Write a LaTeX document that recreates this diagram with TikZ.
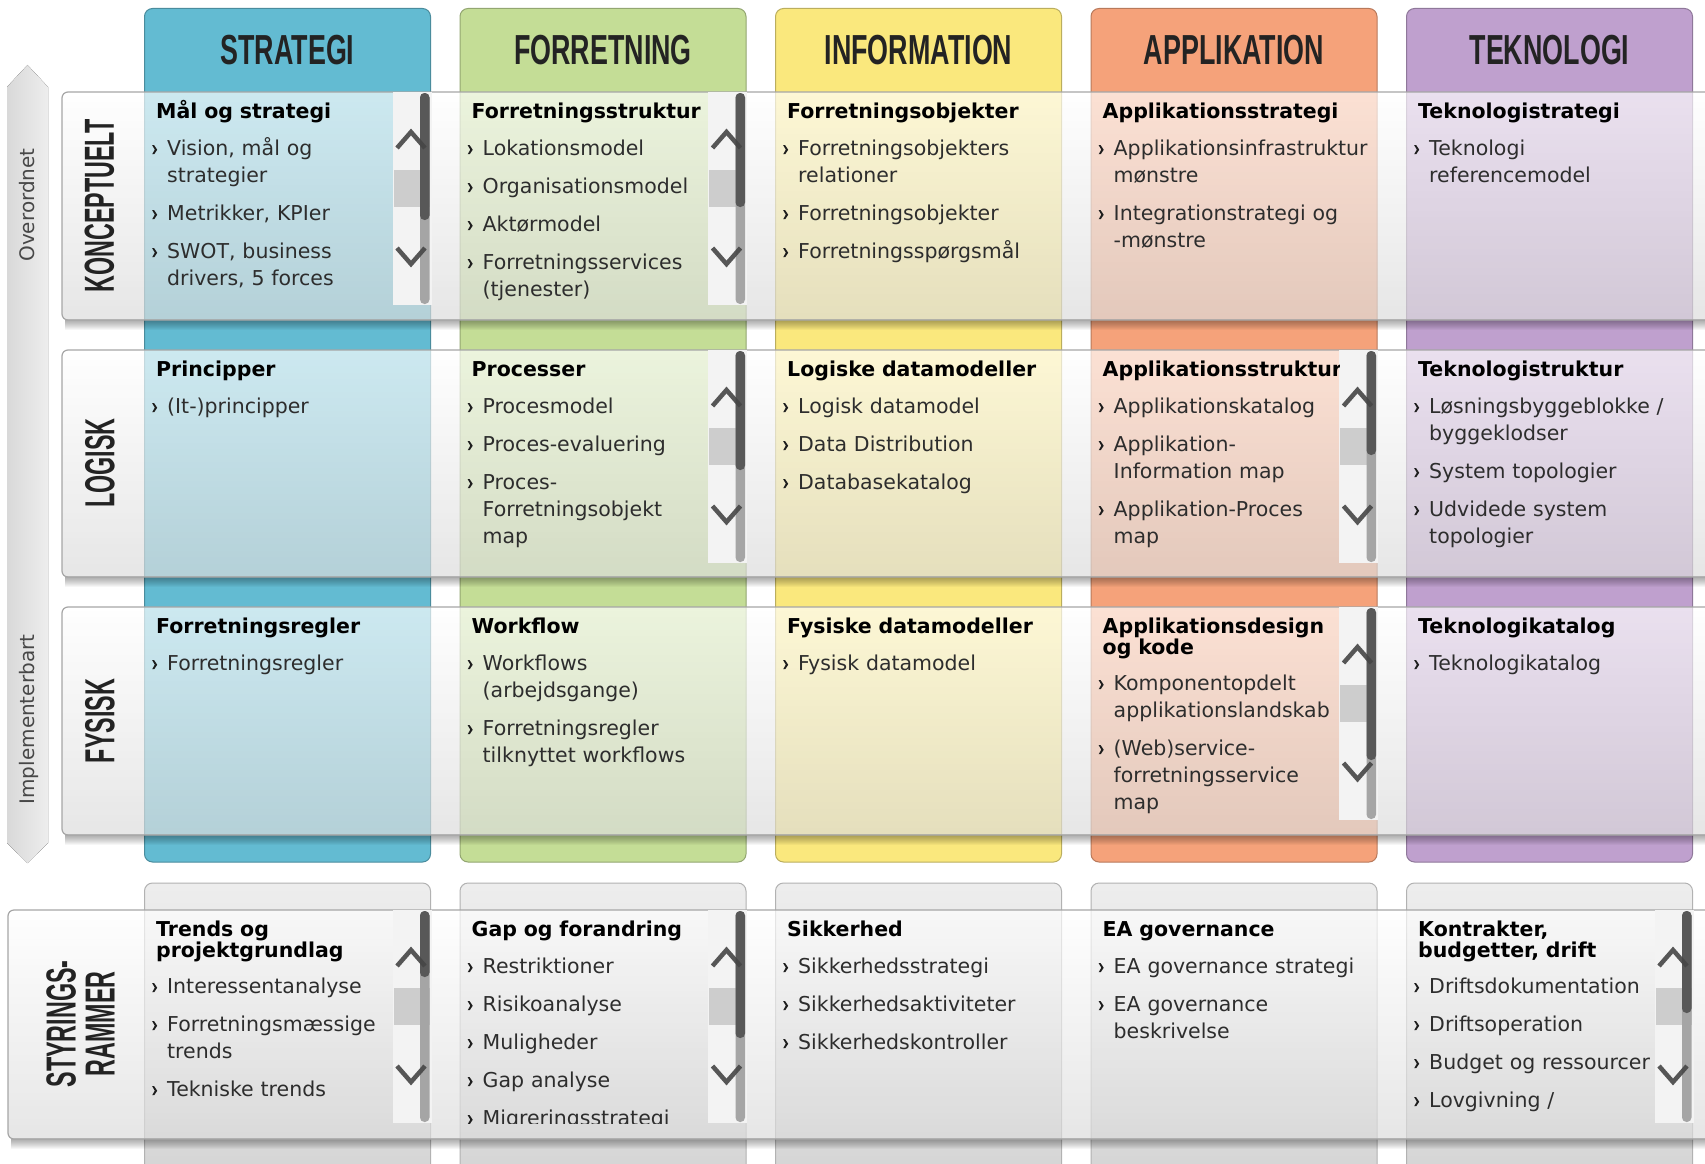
\documentclass[tikz,border=0pt]{standalone}
\usepackage{fontspec}
\setmainfont{DejaVu Sans}
\newfontfamily\colfontfam[FakeStretch=0.64]{Liberation Sans}
\newfontfamily\rowfontfam[FakeStretch=0.555]{Liberation Sans}
\definecolor{stratC}{RGB}{99,187,210}
\definecolor{forrC}{RGB}{196,221,150}
\definecolor{infoC}{RGB}{250,232,125}
\definecolor{appC}{RGB}{245,162,122}
\definecolor{tekC}{RGB}{191,160,206}
\definecolor{txtC}{RGB}{45,45,45}
\definecolor{hdrC}{RGB}{35,35,35}
\definecolor{sbbgC}{RGB}{243,243,243}
\definecolor{sbsqC}{RGB}{205,205,205}
\definecolor{sbdarkC}{RGB}{88,88,88}
\definecolor{sblightC}{RGB}{165,165,165}
\definecolor{chevC}{RGB}{70,70,70}
\definecolor{bulC}{RGB}{30,30,30}

\newcommand\bul{\tikz[x=1pt,y=1pt,baseline=0pt]\fill[bulC] (0,1) -- (2,1) -- (5,5.5) -- (2,10) -- (0,10) -- (2.6,5.5) -- cycle;}
\newcommand\ttl[1]{\noindent{\color{black}\bfseries\fontsize{20.5}{21}\selectfont\vrule height 19pt width 0pt\relax #1\par}}
\newcommand\itm[2][11pt]{\vspace{#1}\noindent\hangindent=11pt\hangafter=0\relax\llap{\bul\hspace{10pt}}#2\par}
\newcommand\sbar[3]{%
 \fill[sbbgC] (#1-38,#2) rectangle (#1+1,#2+213);
 \fill[sbsqC] (#1-37,#2+78) rectangle (#1-1,#2+115);
 \fill[sblightC, rounded corners=4.5] (#1-10.5,#2+1) rectangle (#1-1,#2+212);
 \fill[sbdarkC, rounded corners=4.5] (#1-10.5,#2+1) rectangle (#1-1,#2+#3);
 \draw[chev] (#1-33.5,#2+56) -- (#1-19.5,#2+40) -- (#1-5.5,#2+56);
 \draw[chev] (#1-33.5,#2+156) -- (#1-19.5,#2+172) -- (#1-5.5,#2+156);
}
\newcommand\shadowband[2]{%
 \foreach \d in {1,...,10}{\fill[black, fill opacity=0.035] (#1+3,#2-1) rectangle (1710,#2+\d);}
}

\begin{document}
\begin{tikzpicture}[x=1pt,y=-1pt,
 hdr/.style={font=\colfontfam\bfseries\fontsize{42}{42}\selectfont, text=hdrC, inner sep=0},
 rowlbl/.style={font=\rowfontfam\bfseries\fontsize{42}{39}\selectfont, text=hdrC, rotate=90, inner sep=0, align=center},
 side/.style={font=\fontsize{20}{20}\selectfont, text=black!72, rotate=90, inner sep=0},
 cell/.style={anchor=north west, inner sep=0, text width=330pt, font=\fontsize{20.5}{27}\selectfont, text=txtC},
 colbox/.style={rounded corners=8, line width=1},
 panel/.style={rounded corners=6, draw=black!35, line width=1.2, top color=white, bottom color=black!14, fill opacity=0.68},
 chev/.style={draw=chevC, line width=4.5, draw opacity=0.9}]
\path[use as bounding box] (0,0) rectangle (1705,1164);
\clip (0,0) rectangle (1705,1164);
\fill[white] (0,0) rectangle (1705,1164);

% side arrow
\fill[left color=black!15, right color=black!7] (7,87) -- (27.5,65) -- (48,87) -- (48,843) -- (27.5,863) -- (7,843) -- cycle;
\node[side] (over) at (27,205) {Overordnet};
\node[side] (impl) at (28.5,719.5) {Implementerbart};

% colored columns
\draw[colbox, draw=stratC!75!black, fill=stratC] (144.5,8.5) rectangle (430.5,862);
\draw[colbox, draw=forrC!75!black, fill=forrC] (460,8.5) rectangle (746,862);
\draw[colbox, draw=infoC!75!black, fill=infoC] (775.5,8.5) rectangle (1061.5,862);
\draw[colbox, draw=appC!75!black, fill=appC] (1091,8.5) rectangle (1377,862);
\draw[colbox, draw=tekC!75!black, fill=tekC] (1406.5,8.5) rectangle (1692.5,862);
\node[hdr] (hstrat) at (287.5,50) {STRATEGI};
\node[hdr] (hforr) at (603,50) {FORRETNING};
\node[hdr] (hinfo) at (918.5,50) {INFORMATION};
\node[hdr] (happ) at (1234,50) {APPLIKATION};
\node[hdr] (htek) at (1549.5,50) {TEKNOLOGI};

% gray boxes (bottom)
\foreach \l in {144.5,460,775.5,1091,1406.5}{
 \draw[colbox, draw=black!30, top color=black!7, bottom color=black!17] (\l,883) rectangle (\l+286,1190);
}

% row panels
\shadowband{62}{320}
\draw[panel] (62,92) rectangle (1730,320);
\shadowband{62}{577}
\draw[panel] (62,350) rectangle (1730,577);
\shadowband{62}{835}
\draw[panel] (62,607) rectangle (1730,835);
\shadowband{8}{1139}
\draw[panel] (8,910) rectangle (1730,1139);

\node[rowlbl] (rkon) at (99.5,206) {KONCEPTUELT};
\node[rowlbl] (rlog) at (100,463) {LOGISK};
\node[rowlbl] (rfys) at (100,721) {FYSISK};
\node[rowlbl] (rsty) at (80.5,1024) {STYRINGS-\\RAMMER};

% scrollbars
\sbar{430.5}{92}{128}
\sbar{746}{92}{115}
\sbar{746}{350}{120}
\sbar{1377}{350}{105}
\sbar{1377}{607}{153}
\sbar{430.5}{910}{67}
\sbar{746}{910}{128}
\sbar{1692.5}{910}{103}

% ---- row 1
\begin{scope}\clip (144.5,92) rectangle (392.5,305);
\node[cell] (t11) at (156,99) {\ttl{Mål og strategi}\itm[10pt]{Vision, mål og\newline strategier}\itm{Metrikker, KPIer}\itm{SWOT, business\newline drivers, 5 forces}};
\end{scope}
\begin{scope}\clip (460,92) rectangle (708,305);
\node[cell] (t12) at (471.5,99) {\ttl{Forretningsstruktur}\itm[10pt]{Lokationsmodel}\itm{Organisationsmodel}\itm{Aktørmodel}\itm{Forretningsservices\newline (tjenester)}};
\end{scope}
\node[cell] (t13) at (787,99) {\ttl{Forretningsobjekter}\itm[10pt]{Forretningsobjekters\newline relationer}\itm{Forretningsobjekter}\itm{Forretningsspørgsmål}};
\node[cell] (t14) at (1102.5,99) {\ttl{Applikationsstrategi}\itm[10pt]{Applikationsinfrastruktur\newline mønstre}\itm{Integrationstrategi og\newline -mønstre}};
\node[cell] (t15) at (1418,99) {\ttl{Teknologistrategi}\itm[10pt]{Teknologi\newline referencemodel}};

% ---- row 2
\node[cell] (t21) at (156,357) {\ttl{Principper}\itm[10pt]{(It-)principper}};
\begin{scope}\clip (460,350) rectangle (708,563);
\node[cell] (t22) at (471.5,357) {\ttl{Processer}\itm[10pt]{Procesmodel}\itm{Proces-evaluering}\itm{Proces-\newline Forretningsobjekt\newline map}};
\end{scope}
\node[cell] (t23) at (787,357) {\ttl{Logiske datamodeller}\itm[10pt]{Logisk datamodel}\itm{Data Distribution}\itm{Databasekatalog}};
\begin{scope}\clip (1091,350) rectangle (1339,563);
\node[cell] (t24) at (1102.5,357) {\ttl{Applikationsstruktur}\itm[10pt]{Applikationskatalog}\itm{Applikation-\newline Information map}\itm{Applikation-Proces\newline map}};
\end{scope}
\node[cell] (t25) at (1418,357) {\ttl{Teknologistruktur}\itm[10pt]{Løsningsbyggeblokke /\newline byggeklodser}\itm{System topologier}\itm{Udvidede system\newline topologier}};

% ---- row 3
\node[cell] (t31) at (156,614) {\ttl{Forretningsregler}\itm[10pt]{Forretningsregler}};
\node[cell] (t32) at (471.5,614) {\ttl{Workflow}\itm[10pt]{Workflows\newline (arbejdsgange)}\itm{Forretningsregler\newline tilknyttet workflows}};
\node[cell] (t33) at (787,614) {\ttl{Fysiske datamodeller}\itm[10pt]{Fysisk datamodel}};
\begin{scope}\clip (1091,607) rectangle (1339,820);
\node[cell] (t34) at (1102.5,614) {\ttl{Applikationsdesign\newline og kode}\itm[9pt]{Komponentopdelt\newline applikationslandskab}\itm{(Web)service-\newline forretningsservice\newline map}};
\end{scope}
\node[cell] (t35) at (1418,614) {\ttl{Teknologikatalog}\itm[10pt]{Teknologikatalog}};

% ---- row 4
\begin{scope}\clip (144.5,910) rectangle (392.5,1123);
\node[cell] (t41) at (156,917) {\ttl{Trends og\newline projektgrundlag}\itm[9pt]{Interessentanalyse}\itm{Forretningsmæssige\newline trends}\itm{Tekniske trends}};
\end{scope}
\begin{scope}\clip (460,910) rectangle (708,1123);
\node[cell] (t42) at (471.5,917) {\ttl{Gap og forandring}\itm[10pt]{Restriktioner}\itm{Risikoanalyse}\itm{Muligheder}\itm{Gap analyse}\itm{Migreringsstrategi}};
\end{scope}
\node[cell] (t43) at (787,917) {\ttl{Sikkerhed}\itm[10pt]{Sikkerhedsstrategi}\itm{Sikkerhedsaktiviteter}\itm{Sikkerhedskontroller}};
\node[cell] (t44) at (1102.5,917) {\ttl{EA governance}\itm[10pt]{EA governance strategi}\itm{EA governance\newline beskrivelse}};
\begin{scope}\clip (1406.5,910) rectangle (1654.5,1123);
\node[cell] (t45) at (1418,917) {\ttl{Kontrakter,\newline budgetter, drift}\itm[9pt]{Driftsdokumentation}\itm{Driftsoperation}\itm{Budget og ressourcer}\itm{Lovgivning /}};
\end{scope}
\end{tikzpicture}
\end{document}
